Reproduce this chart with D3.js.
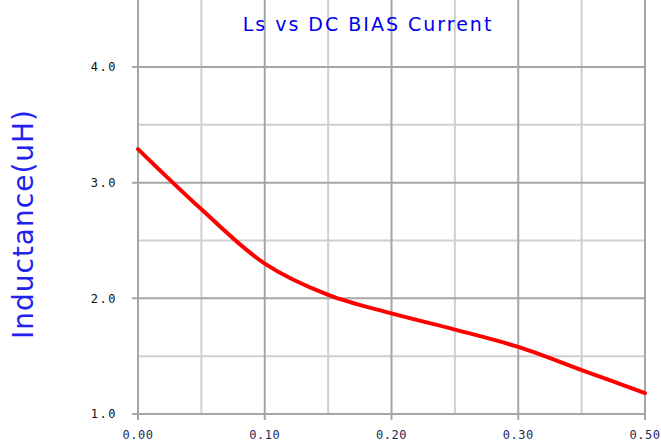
<!DOCTYPE html>
<html>
<head>
<meta charset="utf-8">
<script src="https://cdn.jsdelivr.net/npm/d3@7"></script>
<style>
  body { margin: 0; background: #fff; }
</style>
</head>
<body>
<div id="chart"></div>
<script>
// data
var current = [0, 0.05, 0.10, 0.15, 0.20, 0.25, 0.30, 0.35, 0.40];
var inductance = [3.29, 2.77, 2.30, 2.03, 1.87, 1.73, 1.58, 1.38, 1.18];

// tick labels as printed on the original (last one really says 0.50)
var xTickValues = [0, 0.10, 0.20, 0.30, 0.40];
var xTickLabels = ["0.00", "0.10", "0.20", "0.30", "0.50"];
var yTickValues = [1, 2, 3, 4];
var yTickLabels = ["1.0", "2.0", "3.0", "4.0"];
var xMinor = [0.05, 0.15, 0.25, 0.35];
var yMinor = [1.5, 2.5, 3.5];

var W = 661, H = 443;
var margin = { top: 67, right: 16, bottom: 29, left: 138 };

var svg = d3.select("#chart")
    .append("svg")
    .attr("width", W)
    .attr("height", H);

var x = d3.scaleLinear().domain([0, 0.4]).range([margin.left, W - margin.right]);
var y = d3.scaleLinear().domain([1, 4]).range([H - margin.bottom, margin.top]);

var left = x(0), right = x(0.4), top = y(4), bottom = y(1);

// minor grid
svg.append("g").selectAll("line")
    .data(xMinor)
    .enter().append("line")
    .attr("x1", function (d) { return x(d); })
    .attr("x2", function (d) { return x(d); })
    .attr("y1", top).attr("y2", bottom)
    .attr("stroke", "#cfcfcf").attr("stroke-width", 2);

svg.append("g").selectAll("line")
    .data(yMinor)
    .enter().append("line")
    .attr("y1", function (d) { return y(d); })
    .attr("y2", function (d) { return y(d); })
    .attr("x1", left).attr("x2", right)
    .attr("stroke", "#cfcfcf").attr("stroke-width", 2);

// major grid, ticks stick out a bit
svg.append("g").selectAll("line")
    .data(xTickValues)
    .enter().append("line")
    .attr("x1", function (d) { return x(d); })
    .attr("x2", function (d) { return x(d); })
    .attr("y1", top).attr("y2", bottom + 6)
    .attr("stroke", "#a6a6a6").attr("stroke-width", 2);

svg.append("g").selectAll("line")
    .data(yTickValues)
    .enter().append("line")
    .attr("y1", function (d) { return y(d); })
    .attr("y2", function (d) { return y(d); })
    .attr("x1", left - 6).attr("x2", right)
    .attr("stroke", "#a6a6a6").attr("stroke-width", 2);

// tick labels
svg.append("g").selectAll("text")
    .data(xTickValues)
    .enter().append("text")
    .attr("x", function (d) { return x(d); })
    .attr("y", H - 4)
    .attr("text-anchor", "middle")
    .style("font-family", "'DejaVu Sans Mono', monospace")
    .style("font-size", "12px")
    .style("letter-spacing", "0.5px")
    .style("fill", "#1c2a5c")
    .text(function (d, i) { return xTickLabels[i]; });

svg.append("g").selectAll("text")
    .data(yTickValues)
    .enter().append("text")
    .attr("x", left - 21)
    .attr("y", function (d) { return y(d); })
    .attr("dy", "0.35em")
    .attr("text-anchor", "end")
    .style("font-family", "'DejaVu Sans Mono', monospace")
    .style("font-size", "12px")
    .style("letter-spacing", "1.5px")
    .style("fill", "#111")
    .text(function (d, i) { return yTickLabels[i]; });

// the curve
var line = d3.line()
    .x(function (d, i) { return x(current[i]); })
    .y(function (d) { return y(d); })
    .curve(d3.curveCatmullRom);

svg.append("path")
    .datum(inductance)
    .attr("d", line)
    .attr("fill", "none")
    .attr("stroke", "#ff0000")
    .attr("stroke-width", 4)
    .attr("stroke-linecap", "round");

// title
svg.append("text")
    .attr("x", 368)
    .attr("y", 31)
    .attr("text-anchor", "middle")
    .style("font-family", "'DejaVu Sans', sans-serif")
    .style("font-size", "19px")
    .style("letter-spacing", "2px")
    .style("fill", "#0000ee")
    .text("Ls vs DC BIAS Current");

// y axis title
svg.append("text")
    .attr("transform", "translate(33,224) rotate(-90)")
    .attr("text-anchor", "middle")
    .style("font-family", "'DejaVu Sans', sans-serif")
    .style("font-size", "28px")
    .style("letter-spacing", "1px")
    .style("fill", "#2222ee")
    .text("Inductance(uH)");
</script>
</body>
</html>
